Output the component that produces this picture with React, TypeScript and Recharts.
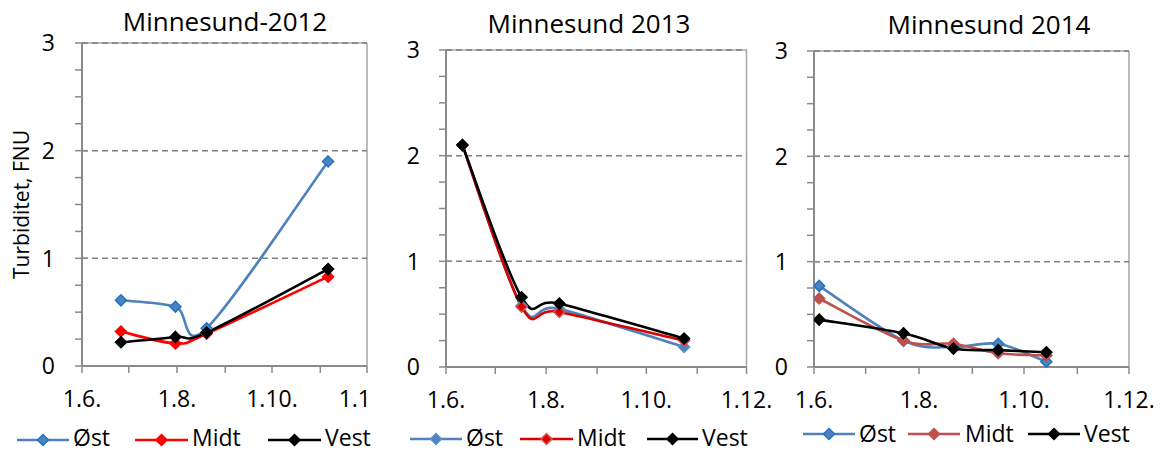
import React from 'react';
import { LineChart, Line, XAxis, YAxis, ReferenceLine } from 'recharts';

// ---------- data ----------
const xTickDays = [0, 30, 61, 92, 122, 153, 183];
const xTickLabels = ['1.6.', '', '1.8.', '', '1.10.', '', '1.12.'];
// the first panel's last label is cut to "1.1" at the image edge
const xTickLabels2012 = ['1.6.', '', '1.8.', '', '1.10.', '', '1.1'];
const yTicks = [0, 0.25, 0.5, 0.75, 1, 1.25, 1.5, 1.75, 2, 2.25, 2.5, 2.75, 3];
const seriesNames = ['Øst', 'Midt', 'Vest'];

const dates2012 = ['26.6.', '31.7.', '20.8.', '6.11.'];
const ost2012 = [0.61, 0.55, 0.35, 1.9];
const midt2012 = [0.32, 0.21, 0.3, 0.83];
const vest2012 = [0.22, 0.27, 0.31, 0.9];

const dates2013 = ['11.6.', '17.7.', '9.8.', '24.10.'];
const ost2013 = [2.1, 0.58, 0.55, 0.19];
const midt2013 = [2.1, 0.57, 0.52, 0.25];
const vest2013 = [2.1, 0.66, 0.6, 0.27];

const dates2014 = ['4.6.', '23.7.', '21.8.', '16.9.', '14.10.'];
const ost2014 = [0.77, 0.25, 0.19, 0.22, 0.05];
const midt2014 = [0.65, 0.25, 0.22, 0.13, 0.11];
const vest2014 = [0.45, 0.32, 0.175, 0.16, 0.14];

// ---------- helpers ----------
const monthOffset: Record<number, number> = { 6: 0, 7: 30, 8: 61, 9: 92, 10: 122, 11: 153, 12: 183 };
const toDay = (s: string) => {
  const [d, m] = s.split('.').map(Number);
  return monthOffset[m] + d - 1;
};
const buildRows = (dates: string[], a: number[], b: number[], c: number[]) =>
  dates.map((d, i) => ({ day: toDay(d), ost: a[i], midt: b[i], vest: c[i] }));

// Excel-like smoothed line (uniform Catmull-Rom as cubic Bezier)
const excelCurve = (context: any) => {
  let pts: number[][] = [];
  return {
    areaStart() {},
    areaEnd() {},
    lineStart() {
      pts = [];
    },
    lineEnd() {
      const n = pts.length;
      if (!n) return;
      context.moveTo(pts[0][0], pts[0][1]);
      for (let i = 0; i < n - 1; i++) {
        const p0 = pts[i - 1] || pts[i];
        const p1 = pts[i];
        const p2 = pts[i + 1];
        const p3 = pts[i + 2] || p2;
        context.bezierCurveTo(
          p1[0] + (p2[0] - p0[0]) / 6,
          p1[1] + (p2[1] - p0[1]) / 6,
          p2[0] - (p3[0] - p1[0]) / 6,
          p2[1] - (p3[1] - p1[1]) / 6,
          p2[0],
          p2[1]
        );
      }
    },
    point(x: number, y: number) {
      pts.push([+x, +y]);
    },
  };
};

const FONT = '"Open Sans", "Noto Sans", sans-serif';
const AXIS = '#8a8a8a';
const TICK_FS = 23;
const LEGEND_FS = 23;
const TITLE_FS = 26;

const diamondPath = (cx: number, cy: number, r: number) =>
  `M${cx},${cy - r}L${cx + r},${cy}L${cx},${cy + r}L${cx - r},${cy}Z`;

const makeDot = (fill: string, stroke: string) => (p: any) => {
  if (p.cx == null || p.cy == null) return <g key={p.index} />;
  return <path key={p.index} d={diamondPath(p.cx, p.cy, 5.5)} fill={fill} stroke={stroke} strokeWidth={1.5} />;
};

type Colors = { line: string; fill: string; stroke: string }[];

type PanelProps = {
  left: number;
  width: number;
  yAxisWidth: number;
  top: number;
  right: number;
  xAxisHeight: number;
  tickMargin: number;
  labels: string[];
  rows: any[];
  colors: Colors;
  title: string;
  titleX: number;
  titleY: number;
  yLabel?: string;
  legend: { x1: number; x2: number; tx: number }[];
  legendY: number;
  legendTextTop: number;
};

const Panel = (p: PanelProps) => {
  const YTick = (props: any) => {
    const { x, y, payload } = props;
    const axisX = x + 7 + p.tickMargin;
    const isInt = Number.isInteger(payload.value);
    return (
      <g>
        {isInt && <line x1={axisX} x2={axisX + 6} y1={y} y2={y} stroke={AXIS} strokeWidth={1.5} />}
        {isInt && (
          <text x={x} y={y} dy="0.36em" textAnchor="end" fontSize={TICK_FS} fill="#000" fontFamily={FONT}>
            {payload.value}
          </text>
        )}
      </g>
    );
  };
  const XTick = (props: any) => {
    const { x, y, payload } = props;
    const label = p.labels[xTickDays.indexOf(payload.value)] ?? '';
    if (!label) return <g />;
    const truncated = label === '1.1';
    return (
      <text
        x={truncated ? x + 4 : x}
        y={y}
        dy="0.71em"
        textAnchor={truncated ? 'end' : 'middle'}
        fontSize={TICK_FS}
        fill="#000"
        fontFamily={FONT}
      >
        {label}
      </text>
    );
  };
  const keys = ['ost', 'midt', 'vest'];
  return (
    <>
      <div
        style={{
          position: 'absolute',
          left: p.titleX - 150,
          width: 300,
          top: p.titleY - 18,
          height: 36,
          lineHeight: '36px',
          textAlign: 'center',
          fontFamily: FONT,
          fontSize: TITLE_FS,
          color: '#000',
        }}
      >
        {p.title}
      </div>
      <div style={{ position: 'absolute', left: p.left, top: 0 }}>
        <LineChart
          width={p.width}
          height={453}
          data={p.rows}
          margin={{ top: p.top, right: p.right, bottom: 0, left: 0 }}
        >
          <XAxis
            dataKey="day"
            type="number"
            domain={[0, 183]}
            ticks={xTickDays}
            interval={0}
            allowDataOverflow
            height={p.xAxisHeight}
            tickSize={7}
            tickMargin={18}
            tick={<XTick />}
            stroke={AXIS}
            strokeWidth={2}
            tickLine={{ stroke: AXIS, strokeWidth: 1.5 }}
          />
          <YAxis
            type="number"
            domain={[0, 3]}
            ticks={yTicks}
            interval={0}
            width={p.yAxisWidth}
            tickSize={7}
            tickMargin={p.tickMargin}
            tick={<YTick />}
            stroke={AXIS}
            strokeWidth={2}
            tickLine={{ stroke: AXIS, strokeWidth: 1.5 }}
            label={
              p.yLabel
                ? {
                    content: (lp: any) => {
                      const vb = lp.viewBox || {};
                      const cx = 20.5;
                      const cy = vb.y + vb.height / 2;
                      return (
                        <text
                          x={cx}
                          y={cy}
                          transform={`rotate(-90 ${cx} ${cy})`}
                          textAnchor="middle"
                          dominantBaseline="central"
                          fontSize={21}
                          fontFamily={FONT}
                          fill="#000"
                        >
                          {p.yLabel}
                        </text>
                      );
                    },
                  }
                : undefined
            }
          />
          <ReferenceLine x={183} stroke="#a6a6a6" strokeWidth={1.5} />
          <ReferenceLine y={3} stroke="#a6a6a6" strokeWidth={1.5} />
          <ReferenceLine y={3} stroke="#7f7f7f" strokeWidth={1.5} strokeDasharray="6 4" />
          <ReferenceLine y={2} stroke="#7f7f7f" strokeWidth={1.5} strokeDasharray="6 4" />
          <ReferenceLine y={1} stroke="#7f7f7f" strokeWidth={1.5} strokeDasharray="6 4" />
          {keys.map((k, i) => (
            <Line
              key={k}
              dataKey={k}
              type={excelCurve as any}
              stroke={p.colors[i].line}
              strokeWidth={2.6}
              dot={makeDot(p.colors[i].fill, p.colors[i].stroke)}
              activeDot={false}
              isAnimationActive={false}
            />
          ))}
        </LineChart>
      </div>
      {p.legend.map((it, i) => (
        <React.Fragment key={i}>
          <svg
            style={{ position: 'absolute', left: it.x1, top: p.legendY - 8 }}
            width={it.x2 - it.x1}
            height={16}
          >
            <line x1={0} x2={it.x2 - it.x1} y1={8} y2={8} stroke={p.colors[i].line} strokeWidth={2.6} />
            <path d={diamondPath((it.x2 - it.x1) / 2, 8, 5.5)} fill={p.colors[i].fill} stroke={p.colors[i].stroke} strokeWidth={1.5} />
          </svg>
          <div
            style={{
              position: 'absolute',
              left: it.tx,
              top: p.legendTextTop,
              fontFamily: FONT,
              fontSize: LEGEND_FS,
              lineHeight: 'normal',
              color: '#000',
              whiteSpace: 'nowrap',
            }}
          >
            {seriesNames[i]}
          </div>
        </React.Fragment>
      ))}
    </>
  );
};

const colors2012: Colors = [
  { line: '#4F81BD', fill: '#4F81BD', stroke: '#1F74C8' },
  { line: '#FF0000', fill: '#FF0000', stroke: '#FF0000' },
  { line: '#000000', fill: '#000000', stroke: '#000000' },
];
const colors2013: Colors = [
  { line: '#4F81BD', fill: '#4F81BD', stroke: '#5B8FD0' },
  { line: '#D80000', fill: '#D80000', stroke: '#D9534F' },
  { line: '#000000', fill: '#000000', stroke: '#000000' },
];
const colors2014: Colors = [
  { line: '#4F81BD', fill: '#4F81BD', stroke: '#1F74C8' },
  { line: '#C0504D', fill: '#C0504D', stroke: '#C0504D' },
  { line: '#000000', fill: '#000000', stroke: '#000000' },
];

export default function App() {
  return (
    <div
      style={{
        position: 'absolute',
        left: 0,
        top: 0,
        width: 1163,
        height: 453,
        background: '#fff',
        overflow: 'hidden',
      }}
    >
      <Panel
        left={0}
        width={380}
        yAxisWidth={82}
        top={43}
        right={13}
        xAxisHeight={87}
        tickMargin={20}
        labels={xTickLabels2012}
        rows={buildRows(dates2012, ost2012, midt2012, vest2012)}
        colors={colors2012}
        title="Minnesund-2012"
        titleX={225}
        titleY={21}
        yLabel="Turbiditet, FNU"
        legend={[
          { x1: 17, x2: 69, tx: 73 },
          { x1: 135, x2: 188, tx: 192 },
          { x1: 268, x2: 321, tx: 325 },
        ]}
        legendY={440}
        legendTextTop={421}
      />
      <Panel
        left={390}
        width={385}
        yAxisWidth={56}
        top={50}
        right={28.5}
        xAxisHeight={86}
        tickMargin={19}
        labels={xTickLabels}
        rows={buildRows(dates2013, ost2013, midt2013, vest2013)}
        colors={colors2013}
        title="Minnesund 2013"
        titleX={589}
        titleY={23}
        legend={[
          { x1: 410, x2: 462, tx: 466 },
          { x1: 520, x2: 573, tx: 577 },
          { x1: 647, x2: 698, tx: 702 },
        ]}
        legendY={439}
        legendTextTop={421}
      />
      <Panel
        left={770}
        width={393}
        yAxisWidth={44}
        top={51}
        right={34}
        xAxisHeight={86}
        tickMargin={19}
        labels={xTickLabels}
        rows={buildRows(dates2014, ost2014, midt2014, vest2014)}
        colors={colors2014}
        title="Minnesund 2014"
        titleX={989}
        titleY={24}
        legend={[
          { x1: 803, x2: 855, tx: 859 },
          { x1: 908, x2: 960, tx: 965 },
          { x1: 1028, x2: 1080, tx: 1084 },
        ]}
        legendY={434}
        legendTextTop={417}
      />
    </div>
  );
}
